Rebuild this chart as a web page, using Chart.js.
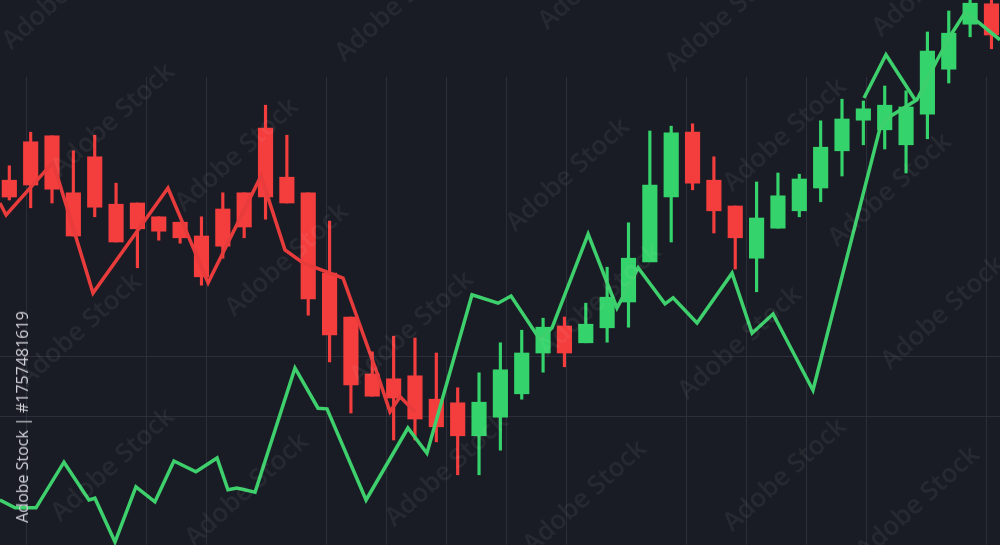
<!DOCTYPE html>
<html>
<head>
<meta charset="utf-8">
<script src="https://cdn.jsdelivr.net/npm/chart.js@4.4.1/dist/chart.umd.min.js"></script>
<style>
  html, body { margin: 0; padding: 0; background: #1a1c25; }
  #wrap { position: relative; width: 1000px; height: 545px; overflow: hidden; background: #1a1c25; }
  canvas { display: block; }
  #idlabel {
    position: absolute; left: 22px; top: 417px;
    transform: translate(-50%, -50%) rotate(-90deg);
    font: 16px 'Open Sans', sans-serif; color: #cfd1d6; white-space: nowrap;
  }
</style>
</head>
<body>
<div id="wrap">
  <canvas id="c" width="1000" height="545"></canvas>
  <div id="idlabel">Adobe Stock | #1757481619</div>
</div>
<script>
// ---- Candlestick data (price units), one entry per session ----
const openP  = [139.3,145.7,146.7,137.2,143.2,135.3,135.5,133.2,132.3,130.0,134.5,137.2,148.0,139.8,137.2,123.8,116.5,107.0,106.2,106.7,102.8,102.2,96.7,99.8,103.7,110.5,115.0,112.2,114.7,119.0,125.7,136.5,147.3,139.3,135.0,126.3,131.3,134.2,138.0,144.2,149.3,147.7,145.2,150.3,157.8,165.3,168.7];
const closeP = [136.5,138.5,137.8,130.0,134.8,129.0,131.2,130.8,129.7,123.2,128.3,131.5,136.5,135.5,119.5,113.5,105.2,103.3,103.0,99.5,98.2,96.7,102.3,107.7,110.5,114.8,110.5,115.3,119.8,126.3,138.5,147.2,138.8,134.2,129.7,133.0,136.7,139.5,144.8,149.5,151.2,151.8,151.5,160.8,163.8,168.8,163.5];
const highP  = [141.7,147.3,146.7,144.2,146.8,138.8,135.5,133.2,132.3,133.2,137.2,137.2,151.8,146.8,137.2,132.5,116.5,110.7,113.3,113.0,110.5,104.7,107.2,112.2,114.3,116.3,116.5,118.8,124.8,132.2,147.5,148.3,148.7,143.2,135.0,139.0,140.5,140.3,149.2,152.8,152.5,155.0,154.2,164.0,167.5,170.0,170.0];
const lowP   = [136.0,134.7,135.5,130.0,133.2,129.0,124.7,129.3,128.8,121.8,126.3,129.7,132.8,135.5,116.8,109.0,100.5,103.3,96.0,96.0,95.7,90.2,90.2,94.3,102.8,107.3,108.2,112.2,112.3,114.8,125.7,129.0,137.7,130.5,124.5,120.7,131.3,133.2,135.7,140.0,145.2,144.5,140.5,146.2,155.5,163.2,161.2];

// ---- Overlay lines: session position (x) and value (y) ----
const redLineX = [-0.44,-0.15,2.05,3.92,7.43,9.31,11.79,12.91,13.76,15.63,17.22,17.83,18.30,19.00];
const redLineY = [135.5,133.5,142.3,120.5,138.0,122.2,140.0,127.7,125.5,123.0,107.2,100.7,103.2,100.7];

const greenLineX = [-0.44,0.27,1.25,2.56,3.73,4.01,4.95,5.93,6.82,7.71,8.74,9.73,10.24,10.66,11.51,13.38,14.46,14.88,16.71,18.67,19.56,21.67,22.89,23.50,24.86,25.42,27.11,28.46,29.45,30.71,31.09,32.21,33.85,34.79,35.77,37.64,40.78,41.20,42.51,43.45,44.15,44.76,45.37,46.40];
const greenLineY = [86.0,84.7,84.7,92.3,86.0,86.3,79.0,88.2,85.7,92.5,90.7,93.0,87.7,88.0,87.3,108.0,101.3,101.2,86.0,98.0,93.8,120.2,118.8,120.0,112.7,114.7,130.3,118.0,124.7,118.7,119.7,115.5,123.8,113.8,117.0,104.3,148.0,149.8,152.7,159.3,163.8,167.2,165.7,162.7];

const peakLineX = [40.03,41.06,42.42];
const peakLineY = [153.0,160.2,152.7];

// ---- Style ----
const UP = '#35d36b', DOWN = '#f43d3d';
const GREEN_LINE = '#3ed06c', RED_LINE = '#e83b3b';
const GRID = '#2c2f3a';
const HIDDEN_VGRID = [1, 4, 10, 15];
const HGRID = [100, 110];

const idx = openP.map((_, i) => i);
const candleColor = idx.map(i => closeP[i] >= openP[i] ? UP : DOWN);
const wickData = idx.map(i => ({ x: i, y: [lowP[i], highP[i]] }));
const bodyData = idx.map(i => ({ x: i, y: [Math.min(openP[i], closeP[i]), Math.max(openP[i], closeP[i])] }));
const pts = (xs, ys) => xs.map((x, i) => ({ x, y: ys[i] }));

const watermark = {
  id: 'watermark',
  afterDatasetsDraw(chart) {
    const ctx = chart.ctx;
    const spots = [[64,-7],[113,120],[237,155],[397,5],[600,-27],[727,15],[934,-20],[568,175],[785,135],[890,190],[80,330],[287,260],[412,328],[600,300],[740,343],[943,313],[113,465],[247,490],[447,470],[585,497],[785,475],[918,503]];
    ctx.save();
    ctx.font = '600 26px "Open Sans", sans-serif';
    ctx.fillStyle = 'rgba(255,255,255,0.06)';
    ctx.textAlign = 'center';
    ctx.textBaseline = 'middle';
    for (const [cx, cy] of spots) {
      ctx.save();
      ctx.translate(cx, cy);
      ctx.rotate(-42 * Math.PI / 180);
      ctx.fillText('Adobe Stock', 0, 0);
      ctx.restore();
    }
    ctx.restore();
  }
};

const lineStyle = { type: 'line', borderWidth: 3.5, pointRadius: 0, tension: 0, clip: false, borderJoinStyle: 'miter' };

new Chart(document.getElementById('c'), {
  type: 'bar',
  data: {
    datasets: [
      Object.assign({ label: 'Trend A', data: pts(greenLineX, greenLineY), borderColor: GREEN_LINE }, lineStyle),
      Object.assign({ label: 'Trend A peak', data: pts(peakLineX, peakLineY), borderColor: GREEN_LINE }, lineStyle),
      Object.assign({ label: 'Trend B', data: pts(redLineX, redLineY), borderColor: RED_LINE }, lineStyle),
      { label: 'Body', data: bodyData, backgroundColor: candleColor, barThickness: 14.5, grouped: false, clip: false, borderWidth: 0, minBarLength: 1 },
      { label: 'Wick', data: wickData, backgroundColor: candleColor, barThickness: 2.5, grouped: false, clip: false, borderWidth: 0 }
    ]
  },
  options: {
    responsive: false,
    animation: false,
    devicePixelRatio: 1,
    events: [],
    layout: { padding: { top: 77, left: 0, right: 0, bottom: 0 }, autoPadding: false },
    plugins: { legend: { display: false }, tooltip: { enabled: false } },
    scales: {
      x: { type: 'linear', min: -0.436, max: 46.40, display: false, offset: false, grid: { offset: false } },
      xg: {
        type: 'linear', axis: 'x', position: 'bottom', min: -0.45, max: 16.217, offset: false,
        ticks: { display: false, stepSize: 1, includeBounds: false },
        grid: { drawTicks: false, offset: false, lineWidth: 1, color: c => HIDDEN_VGRID.includes(c.tick.value) ? 'rgba(0,0,0,0)' : GRID },
        border: { display: false },
        afterFit: s => { s.height = 0; }
      },
      y: {
        type: 'linear', min: 78.5, max: 156.5, position: 'left',
        ticks: { display: false, stepSize: 10, includeBounds: false },
        grid: { drawTicks: false, lineWidth: 1, color: c => HGRID.includes(c.tick.value) ? GRID : 'rgba(0,0,0,0)' },
        border: { display: false },
        afterFit: s => { s.width = 0; }
      }
    }
  },
  plugins: [watermark]
});
</script>
</body>
</html>
